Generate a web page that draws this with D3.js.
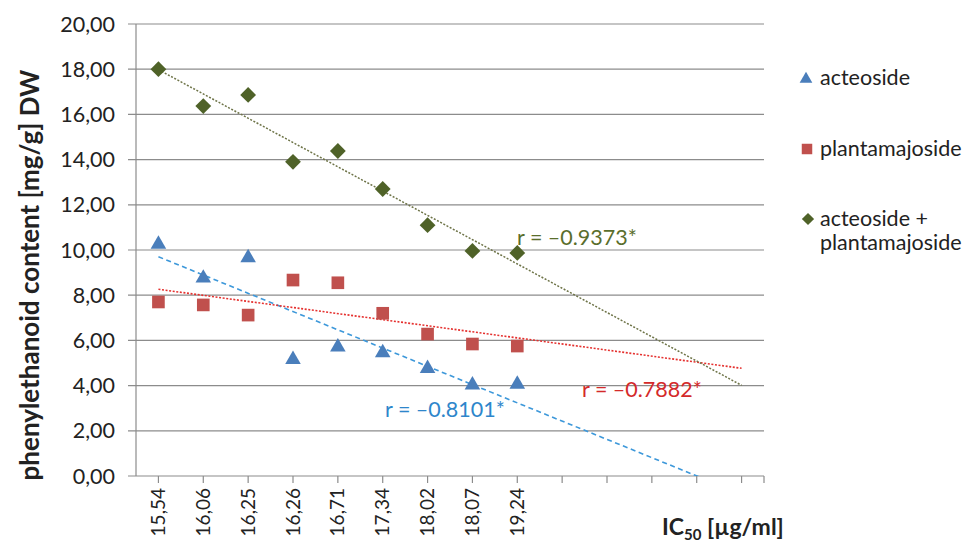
<!DOCTYPE html>
<html><head><meta charset="utf-8">
<script src="https://cdn.jsdelivr.net/npm/d3@7"></script>
<style>body{margin:0;background:#fff}text{font-family:Lato,"Open Sans",sans-serif}</style>
</head><body><svg id="c" width="978" height="546"></svg>
<script>
const categories = ["15,54","16,06","16,25","16,26","16,71","17,34","18,02","18,07","19,24","","","","",""];
const acteoside = [10.3, 8.8, 9.7, 5.2, 5.75, 5.5, 4.8, 4.07, 4.1];
const plantamajoside = [7.7, 7.57, 7.12, 8.67, 8.55, 7.2, 6.28, 5.84, 5.75];
const combined = [18.0, 16.37, 16.86, 13.9, 14.38, 12.7, 11.1, 9.96, 9.87];
const yTicks = [0,2,4,6,8,10,12,14,16,18,20];
const seriesNames = ["acteoside","plantamajoside","acteoside + plantamajoside"];
const rLabels = ["r = \u20130.8101*","r = \u20130.7882*","r = \u20130.9373*"];

const svg = d3.select("#c");
const L=136,R=764,T=24,B=476;
const x = d3.scalePoint().domain(d3.range(categories.length)).range([L,R]).padding(0.5);
const y = d3.scaleLinear().domain([0,20]).range([B,T]);
const grid="#8c8c8c";

svg.append("g").selectAll("line").data(yTicks).join("line")
  .attr("x1",L-8).attr("x2",R).attr("y1",d=>y(d)).attr("y2",d=>y(d))
  .attr("stroke",grid).attr("stroke-width",1.2);
svg.append("line").attr("x1",L).attr("x2",L).attr("y1",T).attr("y2",B).attr("stroke",grid).attr("stroke-width",1.2);
svg.append("g").selectAll("text").data(yTicks).join("text")
  .attr("x",L-21).attr("y",d=>y(d)+7.5).attr("text-anchor","end")
  .attr("font-size",21.5).attr("fill","#222")
  .text(d=>d3.format(".2f")(d).replace(".",","));
svg.append("g").selectAll("line").data(d3.range(categories.length)).join("line")
  .attr("x1",d=>x(d)).attr("x2",d=>x(d)).attr("y1",B).attr("y2",B+7).attr("stroke",grid).attr("stroke-width",1.2);
svg.append("line").attr("x1",R).attr("x2",R).attr("y1",B).attr("y2",B+7).attr("stroke",grid).attr("stroke-width",1.2);
svg.append("g").selectAll("text").data(categories).join("text")
  .attr("transform",(d,i)=>`translate(${x(i)+6.5},${B+12}) rotate(-90)`)
  .attr("text-anchor","end").attr("font-size",19).attr("fill","#222").text(d=>d);

function fit(vals){
  const n=vals.length, mx=d3.mean(d3.range(n)), my=d3.mean(vals);
  let sxy=0,sxx=0; vals.forEach((v,i)=>{sxy+=(i-mx)*(v-my);sxx+=(i-mx)*(i-mx);});
  const b=sxy/sxx; return i=>my+b*(i-mx);
}
svg.append("defs").append("clipPath").attr("id","clip").append("rect").attr("x",L).attr("y",T).attr("width",R-L).attr("height",B-T);
const trend=[
 {vals:acteoside,color:"#3d98da",dash:"5,3.5",w:1.6},
 {vals:plantamajoside,color:"#e5312f",dash:"2,1.6",w:1.6},
 {vals:combined,color:"#6e7448",dash:"2,1.6",w:1.5}
];
const last=categories.length-1;
trend.forEach(t=>{
  const f=fit(t.vals);
  svg.append("line").attr("clip-path","url(#clip)")
    .attr("x1",x(0)).attr("y1",y(f(0))).attr("x2",x(last)).attr("y2",y(f(last)))
    .attr("stroke",t.color).attr("stroke-width",t.w).attr("stroke-dasharray",t.dash);
});

const cBlue="#4a7ebb", cRed="#c0504d", cGreen="#4f6228";
const tri=d3.symbol().type(d3.symbolTriangle).size(105);
const sq=d3.symbol().type(d3.symbolSquare).size(160);
const dia=d3.symbol().type(d3.symbolSquare).size(125);
svg.append("g").selectAll("path").data(acteoside).join("path")
  .attr("transform",(d,i)=>`translate(${x(i)},${y(d)+1})`).attr("d",tri).attr("fill",cBlue);
svg.append("g").selectAll("path").data(plantamajoside).join("path")
  .attr("transform",(d,i)=>`translate(${x(i)},${y(d)})`).attr("d",sq).attr("fill",cRed);
svg.append("g").selectAll("path").data(combined).join("path")
  .attr("transform",(d,i)=>`translate(${x(i)},${y(d)}) rotate(45)`).attr("d",dia).attr("fill",cGreen);

const rPos=[[385,417,"#2e86cb"],[582,397,"#d42a2a"],[517,245,"#5a6e2c"]];
rLabels.forEach((s,i)=>svg.append("text").attr("x",rPos[i][0]).attr("y",rPos[i][1])
  .attr("font-size",21.5).attr("fill",rPos[i][2]).text(s));

const lg=svg.append("g");
lg.append("path").attr("transform","translate(806,79)").attr("d",d3.symbol().type(d3.symbolTriangle).size(70)).attr("fill",cBlue);
lg.append("path").attr("transform","translate(807,149)").attr("d",d3.symbol().type(d3.symbolSquare).size(110)).attr("fill",cRed);
lg.append("path").attr("transform","translate(808,219) rotate(45)").attr("d",d3.symbol().type(d3.symbolSquare).size(75)).attr("fill",cGreen);
const legTxt=[[seriesNames[0],85],["plantamajoside",156],["acteoside +",226],["plantamajoside",250]];
legTxt.forEach(([s,yy])=>lg.append("text").attr("x",820).attr("y",yy).attr("font-size",21.5).attr("fill","#222").text(s));

svg.append("text").attr("transform","translate(39,275) rotate(-90)").attr("text-anchor","middle")
  .attr("font-size",26).attr("font-weight","bold").attr("fill","#222").text("phenylethanoid content [mg/g] DW");
const xt=svg.append("text").attr("x",662).attr("y",535).attr("font-size",23).attr("font-weight","bold").attr("fill","#222");
xt.append("tspan").text("IC");
xt.append("tspan").attr("font-size",15).attr("dy",5).text("50");
xt.append("tspan").attr("dy",-5).text(" [\u00b5g/ml]");
</script></body></html>
